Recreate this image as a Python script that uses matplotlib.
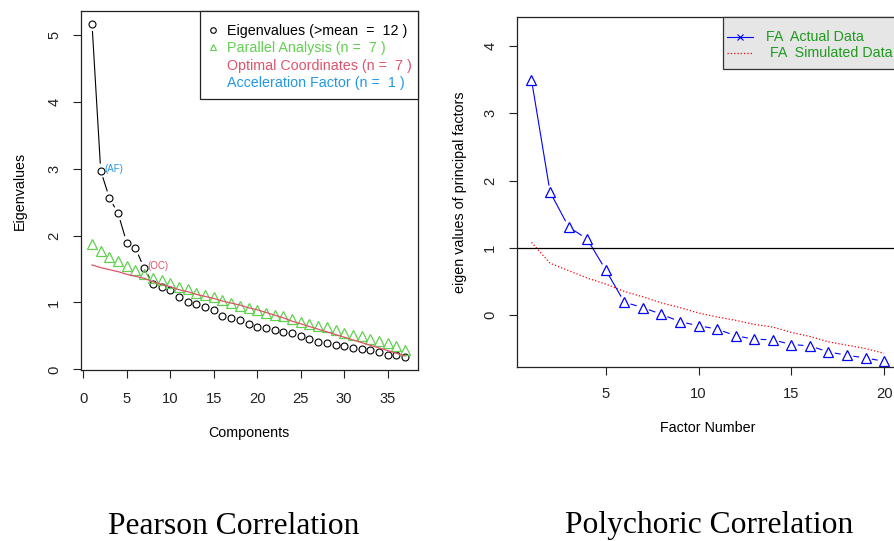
import numpy as np
import matplotlib
matplotlib.use("Agg")
import matplotlib.pyplot as plt
from matplotlib.lines import Line2D
from matplotlib.patches import Rectangle
from matplotlib import transforms

plt.rcParams['font.family'] = ['Liberation Sans', 'DejaVu Sans']

# ---------------- data ----------------
components = np.arange(1, 38)
eigenvalues = [5.16, 2.97, 2.56, 2.33, 1.89, 1.81, 1.51, 1.28, 1.23, 1.19,
               1.08, 1.01, 0.98, 0.93, 0.89, 0.79, 0.76, 0.73, 0.67, 0.63,
               0.62, 0.59, 0.56, 0.54, 0.50, 0.46, 0.41, 0.40, 0.36, 0.35,
               0.32, 0.30, 0.29, 0.26, 0.22, 0.22, 0.19]
parallel = [1.87, 1.77, 1.68, 1.62, 1.55, 1.49, 1.42, 1.37, 1.33, 1.29,
            1.235, 1.20, 1.145, 1.11, 1.08, 1.04, 0.99, 0.95, 0.92, 0.88,
            0.84, 0.81, 0.79, 0.75, 0.70, 0.68, 0.65, 0.63, 0.59, 0.54,
            0.52, 0.50, 0.46, 0.42, 0.39, 0.35, 0.29]
optimal_coord = [1.56, 1.52, 1.49, 1.46, 1.42, 1.39, 1.36, 1.31, 1.27, 1.235,
                 1.19, 1.16, 1.12, 1.09, 1.06, 1.02, 0.99, 0.96, 0.92, 0.89,
                 0.85, 0.81, 0.77, 0.72, 0.68, 0.64, 0.60, 0.56, 0.52, 0.48,
                 0.44, 0.40, 0.36, 0.32, 0.28, 0.24, 0.20]
n_counts = [12, 7, 7, 1]
legend1_labels = ['Eigenvalues (>mean  =  %d )' % n_counts[0],
                  'Parallel Analysis (n =  %d )' % n_counts[1],
                  'Optimal Coordinates (n =  %d )' % n_counts[2],
                  'Acceleration Factor (n =  %d )' % n_counts[3]]

factor_number = np.arange(1, 21)
fa_actual = [3.50, 1.83, 1.31, 1.13, 0.67, 0.19, 0.11, 0.01, -0.10, -0.16,
             -0.21, -0.31, -0.36, -0.37, -0.44, -0.46, -0.55, -0.60, -0.64, -0.69]
fa_simulated = [1.08, 0.77, 0.66, 0.55, 0.46, 0.35, 0.27, 0.18, 0.11, 0.03,
                -0.03, -0.08, -0.14, -0.18, -0.26, -0.32, -0.40, -0.45, -0.50, -0.57]
legend2_labels = ['FA  Actual Data', ' FA  Simulated Data']
captions = ['Pearson Correlation', 'Polychoric Correlation']

C_RED, C_GREEN, C_BLUE = '#DF536B', '#61D04F', '#2297E6'

# ---------------- figure ----------------
W, H = 895, 541
fig = plt.figure(figsize=(W / 100, H / 100), dpi=100)
# pixel coordinates measured from the top-left corner of the figure
PX = transforms.Affine2D().scale(1 / W, -1 / H).translate(0, 1) + fig.transFigure


def px_axes(l, t, r, b):
    return fig.add_axes([l / W, 1 - b / H, (r - l) / W, (b - t) / H])


def type_b(ax, x, y, gap, **kw):
    """R-style type='b' line: segments with gaps around the points."""
    pts = ax.transData.transform(np.column_stack([x, y]))
    inv = ax.transData.inverted()
    for p0, p1 in zip(pts[:-1], pts[1:]):
        d = p1 - p0
        L = np.hypot(*d)
        if L > 2 * gap:
            u = d / L
            seg = inv.transform(np.array([p0 + u * gap, p1 - u * gap]))
            ax.plot(seg[:, 0], seg[:, 1], **kw)


def style_axes(ax, xpad, ypad):
    for s in ax.spines.values():
        s.set_linewidth(0.9)
        s.set_color('#222222')
    ax.tick_params(direction='out', length=5.5, width=0.8, labelsize=10.6,
                   colors='#222222')
    ax.tick_params(axis='x', pad=xpad)
    ax.tick_params(axis='y', pad=ypad, labelrotation=90)
    for lab in ax.get_yticklabels():
        lab.set_va('center')


# ---------- left panel ----------
ax1 = px_axes(80.7, 11, 417.7, 370)
ax1.set_xlim(-0.3, 38.45)
ax1.set_ylim(-0.01, 5.355)

type_b(ax1, components, eigenvalues, 7.5, color='black', lw=0.8)
ax1.plot(components, eigenvalues, 'o', ms=5, mfc='none', mec='black', mew=0.8)
ax1.plot(components, parallel, '^', ms=6.8, mfc='none', mec=C_GREEN, mew=0.9)
ax1.plot(components, optimal_coord, '-', color=C_RED, lw=0.9)
ax1.annotate('(AF)', (components[1], eigenvalues[1]), xytext=(2.5, 1.5),
             textcoords='offset points', color=C_BLUE, fontsize=7, va='center')
ax1.annotate('(OC)', (components[6], eigenvalues[6]), xytext=(2.5, 1.5),
             textcoords='offset points', color=C_RED, fontsize=7, va='center')

ax1.set_xticks(range(0, 36, 5))
ax1.set_yticks(range(0, 6))
style_axes(ax1, 10, 8.5)

ax1.set_xlabel('Components', fontsize=10.3)
ax1.xaxis.set_label_coords(0.5, (370 - 433) / 359)
ax1.xaxis.label.set_va('center')
ax1.set_ylabel('Eigenvalues', fontsize=10.3)
ax1.yaxis.set_label_coords((19.5 - 80.7) / 337, 0.5)
ax1.yaxis.label.set_va('center')

# legend (R style, drawn in pixel coordinates)
fig.add_artist(Rectangle((200, 11), 217.7, 88, transform=PX, facecolor='white',
                         edgecolor='#222222', lw=0.9, zorder=5))
leg1_colors = ['black', C_GREEN, C_RED, C_BLUE]
leg1_markers = ['o', '^', None, None]
for i, (lab, col, mk) in enumerate(zip(legend1_labels, leg1_colors, leg1_markers)):
    yy = 30.5 + 17.6 * i
    if mk is not None:
        fig.add_artist(Line2D([213], [yy - 1], transform=PX, ls='none', marker=mk,
                              ms=4 if mk == 'o' else 5, mfc='none', mec=col,
                              mew=0.8, zorder=6))
    fig.text(226.7, yy, lab, transform=PX, color=col, fontsize=10.3,
             va='center', ha='left', zorder=6)

# ---------- right panel ----------
ax2 = px_axes(517.3, 17.3, 898, 366.7)
ax2.set_xlim(0.235, 20.75)
ax2.set_ylim(-0.77, 4.43)

type_b(ax2, factor_number, fa_actual, 7, color='blue', lw=0.8)
ax2.plot(factor_number, fa_actual, '^', ms=6.8, mfc='none', mec='blue', mew=0.9)
ax2.plot(factor_number, fa_simulated, ':', color='red', lw=0.9)
ax2.axhline(1, color='black', lw=0.9)

ax2.set_xticks(range(5, 21, 5))
ax2.set_yticks(range(0, 5))
style_axes(ax2, 9, 9)

ax2.set_xlabel('Factor Number', fontsize=10.3)
ax2.xaxis.set_label_coords(0.5, (366.7 - 428) / 349.4)
ax2.xaxis.label.set_va('center')
ax2.set_ylabel('eigen values of principal factors', fontsize=10.3)
ax2.yaxis.set_label_coords((460 - 517.3) / 380.7, 0.5)
ax2.yaxis.label.set_va('center')

fig.add_artist(Rectangle((722.7, 16.7), 200, 52.6, transform=PX,
                         facecolor='#E6E6E6', edgecolor='#333333', lw=0.9,
                         zorder=5))
leg2_styles = [dict(color='blue', lw=0.8, ls='-'), dict(color='red', lw=0.9, ls=':')]
for i, (lab, st) in enumerate(zip(legend2_labels, leg2_styles)):
    yy = 36.7 + 16.6 * i
    fig.add_artist(Line2D([726.7, 753], [yy, yy], transform=PX, zorder=6, **st))
    if i == 0:
        fig.add_artist(Line2D([740], [yy], transform=PX, ls='none', marker='x',
                              ms=5, mec='blue', mew=0.8, zorder=6))
    fig.text(765.7, yy, lab, transform=PX, color='#1F9A1F', fontsize=10.3,
             va='center', ha='left', zorder=6)

# ---------- captions ----------
fig.text(234, 533.5, captions[0], transform=PX, family='Liberation Serif',
         fontsize=22.7, ha='center', va='baseline')
fig.text(709, 533.5, captions[1], transform=PX, family='Liberation Serif',
         fontsize=22.7, ha='center', va='baseline')

fig.savefig('out.png', dpi=100)
